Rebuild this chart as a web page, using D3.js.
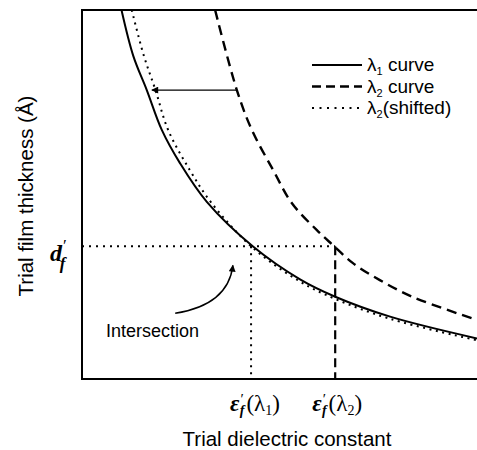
<!DOCTYPE html>
<html>
<head>
<meta charset="utf-8">
<script src="https://cdn.jsdelivr.net/npm/d3@7"></script>
<style>
  body { margin: 0; background: #fff; }
  svg { display: block; }
  text { font-family: "Liberation Sans", Arial, sans-serif; fill: #000; }
  .math { font-family: "Liberation Serif", "Times New Roman", serif; }
</style>
</head>
<body>
<svg id="chart" width="477" height="450"></svg>
<script>
// Data (arbitrary units) -----------------------------------
var lambda1X  = [1.00, 1.30, 1.64, 2.02, 2.48, 3.16, 4.33, 5.52, 6.41, 7.80, 10.0];
var lambda1Y  = [10.0, 8.75, 7.83, 6.75, 5.85, 4.80, 3.59, 2.70, 2.23, 1.69, 1.10];
var lambda2X  = [3.37, 3.92, 4.30, 4.84, 5.31, 5.94, 6.35, 6.86, 7.54, 8.38, 10.0];
var lambda2Y  = [10.0, 7.83, 6.75, 5.66, 4.77, 4.04, 3.63, 3.14, 2.68, 2.22, 1.60];
var shiftedX  = [1.26, 1.56, 1.86, 2.18, 2.73, 3.28, 4.33, 5.52, 6.41, 7.80, 10.0];
var shiftedY  = [10.0, 8.78, 7.83, 6.75, 5.66, 4.77, 3.55, 2.64, 2.17, 1.63, 1.05];
var dfValue   = 3.6;      // trial film thickness d'f
var eps1Value = 4.28;     // intersection with lambda1 curve
var eps2Value = 6.41;     // intersection with lambda2 curve
var arrowY    = 7.83;     // level of the shift arrow
var arrowFrom = 3.92, arrowTo = 1.77;
var legendLabels = ["curve", "curve", "(shifted)"];
var legendSubs   = ["1", "2", "2"];

var svg = d3.select("#chart");
var mLeft = 82, mTop = 10, mRight = 477, mBottom = 379;

// Scales ---------------------------------------
var x = d3.scaleLinear().domain([0, 10]).range([mLeft, mRight]);
var y = d3.scaleLinear().domain([0, 10]).range([mBottom, mTop]);

var line = d3.line()
    .x(function(d) { return x(d[0]); })
    .y(function(d) { return y(d[1]); })
    .curve(d3.curveCatmullRom.alpha(0.5));

function pairs(xs, ys) { return xs.map(function(v, i) { return [v, ys[i]]; }); }

var defs = svg.append("defs");
defs.append("clipPath").attr("id", "plot")
  .append("rect").attr("x", mLeft).attr("y", mTop)
  .attr("width", mRight - mLeft + 5).attr("height", mBottom - mTop);

defs.append("marker").attr("id", "head")
    .attr("viewBox", "0 0 10 10").attr("refX", 9).attr("refY", 5)
    .attr("markerWidth", 9).attr("markerHeight", 7)
    .attr("markerUnits", "userSpaceOnUse").attr("orient", "auto")
  .append("path").attr("d", "M0,0 L10,5 L0,10 Z").attr("fill", "#000");

var plot = svg.append("g").attr("clip-path", "url(#plot)");

// Guide lines ----------------------------------
plot.append("line")
    .attr("x1", x(0)).attr("x2", x(eps2Value))
    .attr("y1", y(dfValue)).attr("y2", y(dfValue))
    .attr("stroke", "#000").attr("stroke-width", 2)
    .attr("stroke-dasharray", "2,5");
plot.append("line")
    .attr("x1", x(eps1Value)).attr("x2", x(eps1Value))
    .attr("y1", y(dfValue)).attr("y2", y(0))
    .attr("stroke", "#000").attr("stroke-width", 2)
    .attr("stroke-dasharray", "2,5");
plot.append("line")
    .attr("x1", x(eps2Value)).attr("x2", x(eps2Value))
    .attr("y1", y(dfValue)).attr("y2", y(0))
    .attr("stroke", "#000").attr("stroke-width", 2.2)
    .attr("stroke-dasharray", "9,5");

// Curves ---------------------------------------
plot.append("path").datum(pairs(shiftedX, shiftedY))
    .attr("d", line).attr("fill", "none").attr("stroke", "#000")
    .attr("stroke-width", 2).attr("stroke-dasharray", "2,4.5");
plot.append("path").datum(pairs(lambda1X, lambda1Y))
    .attr("d", line).attr("fill", "none").attr("stroke", "#000")
    .attr("stroke-width", 2);
plot.append("path").datum(pairs(lambda2X, lambda2Y))
    .attr("d", line).attr("fill", "none").attr("stroke", "#000")
    .attr("stroke-width", 2.4).attr("stroke-dasharray", "10,6");

// Shift arrow
svg.append("line")
    .attr("x1", x(arrowFrom)).attr("x2", x(arrowTo))
    .attr("y1", y(arrowY)).attr("y2", y(arrowY))
    .attr("stroke", "#000").attr("stroke-width", 1.2)
    .attr("marker-end", "url(#head)");

// Frame ----------------------------------------
svg.append("path")
    .attr("d", "M" + (mRight + 5) + "," + mTop + "H" + mLeft + "V" + mBottom + "H" + (mRight + 5))
    .attr("fill", "none").attr("stroke", "#000").attr("stroke-width", 2);

// Legend ---------------------------------------
var legendDash = [null, "9,5", "2,5.5"];
var legendWidth = [2, 2.4, 2];
legendLabels.forEach(function(lab, i) {
  var ly = 65 + i * 21.5;
  svg.append("line")
      .attr("x1", 312).attr("x2", 362).attr("y1", ly).attr("y2", ly)
      .attr("stroke", "#000").attr("stroke-width", legendWidth[i])
      .attr("stroke-dasharray", legendDash[i]);
  var t = svg.append("text").attr("x", 367).attr("y", ly + 6)
      .style("font-size", "19px");
  t.append("tspan").text("λ");
  t.append("tspan").attr("dy", 4).style("font-size", "11px").text(legendSubs[i]);
  t.append("tspan").attr("dy", -4).text((i < 2 ? " " : "") + lab);
});

// Axis labels ----------------------------------
svg.append("text")
    .attr("x", 287).attr("y", 446)
    .attr("text-anchor", "middle")
    .style("font-size", "20.5px")
    .text("Trial dielectric constant");

svg.append("text")
    .attr("transform", "translate(33,196) rotate(-90)")
    .attr("text-anchor", "middle")
    .style("font-size", "20.5px")
    .text("Trial film thickness (Å)");

// Special tick labels --------------------------
function epsLabel(x0, sub) {
  var t = svg.append("text").attr("class", "math")
      .attr("x", x0).attr("y", 411)
      .style("font-size", "23px");
  t.append("tspan").style("font-weight", "bold").style("font-style", "italic").text("ε");
  t.append("tspan").attr("dx", 1).attr("dy", -7).style("font-size", "15px").text("′");
  t.append("tspan").attr("dx", -4).attr("dy", 11).style("font-size", "14px")
      .style("font-weight", "bold").style("font-style", "italic").text("f");
  t.append("tspan").attr("dx", 2).attr("dy", -4).text("(λ");
  t.append("tspan").attr("dy", 4).style("font-size", "14px").text(sub);
  t.append("tspan").attr("dy", -4).text(")");
}
epsLabel(x(eps1Value) - 21, "1");
epsLabel(x(eps2Value) - 23, "2");

var dLab = svg.append("text").attr("class", "math")
    .attr("x", 50).attr("y", y(dfValue) + 15)
    .style("font-size", "24px");
dLab.append("tspan").style("font-weight", "bold").style("font-style", "italic").text("d");
dLab.append("tspan").attr("dx", 1).attr("dy", -10).style("font-size", "17px").text("′");
dLab.append("tspan").attr("dx", -7).attr("dy", 18).style("font-size", "17px")
    .style("font-weight", "bold").style("font-style", "italic").text("f");

// Intersection annotation ----------------------
svg.append("text")
    .attr("x", 106).attr("y", 337)
    .style("font-size", "18px")
    .text("Intersection");

var p0 = [x(2.36), y(1.78)], pc = [x(3.70), y(2.01)], p1 = [x(3.82), y(3.08)];
svg.append("path")
    .attr("d", "M" + p0 + "Q" + pc + " " + p1)
    .attr("fill", "none").attr("stroke", "#000").attr("stroke-width", 1.5)
    .attr("marker-end", "url(#head)");
</script>
</body>
</html>
